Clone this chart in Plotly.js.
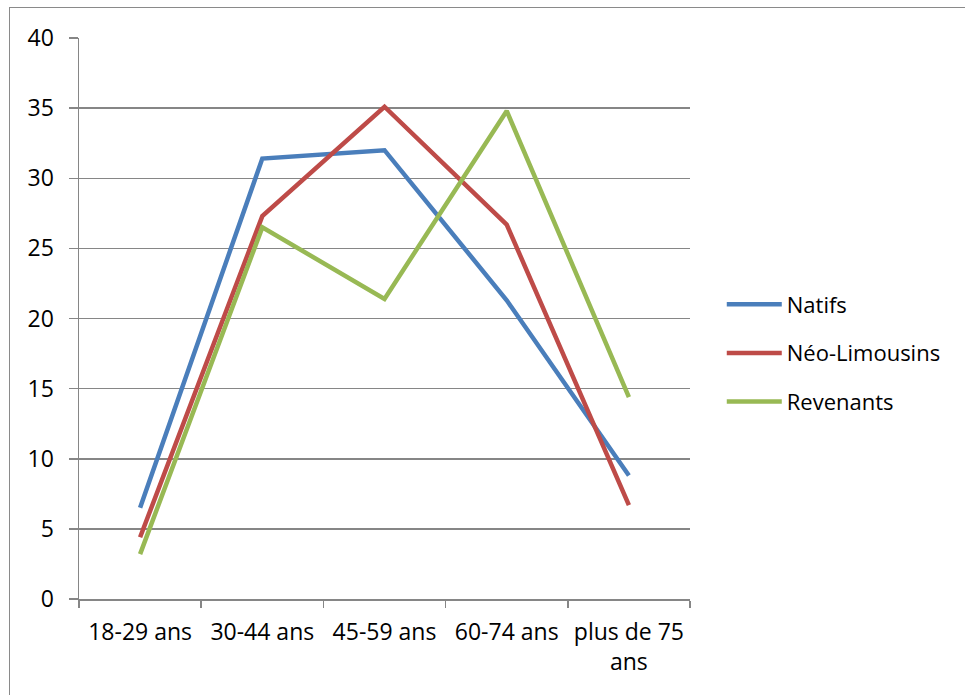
<!DOCTYPE html>
<html>
<head>
<meta charset="utf-8">
<script src="https://cdn.plot.ly/plotly-3.0.1.min.js"></script>
<style>
html,body{margin:0;padding:0;background:#fff;overflow:hidden;}
#frame{position:absolute;left:9px;top:7px;width:970px;height:700px;border:1.5px solid #8a8a8a;box-sizing:border-box;pointer-events:none;z-index:5;}
#chart{position:absolute;left:0;top:0;width:965px;height:695px;}
</style>
</head>
<body>
<div id="chart"></div>
<div id="frame"></div>
<script>
const categories = ["18-29 ans", "30-44 ans", "45-59 ans", "60-74 ans", "plus de 75<br>ans"];
const natifs = [6.5, 31.4, 32.0, 21.3, 8.8];
const neoLimousins = [4.4, 27.3, 35.1, 26.7, 6.7];
const revenants = [3.2, 26.5, 21.4, 34.8, 14.4];
const seriesNames = ["Natifs", "Néo-Limousins", "Revenants"];
const yTicks = [0, 5, 10, 15, 20, 25, 30, 35, 40];

const colors = ["#4A7EBB", "#BE4B48", "#98B954"];
const values = [natifs, neoLimousins, revenants];
const traces = values.map((v, i) => ({
  x: categories, y: v, name: seriesNames[i], type: "scatter", mode: "lines",
  legendgroup: "g" + i,
  line: {color: colors[i], width: 4.5}
}));

const fam = "Open Sans, Noto Sans, sans-serif";
const font = {family: fam, size: 23, color: "#000"};
const layout = {
  width: 965, height: 695,
  margin: {l: 79, r: 275, t: 38, b: 96},
  paper_bgcolor: "#fff", plot_bgcolor: "#fff",
  font: font,
  showlegend: true,
  legend: {x: 1.052, y: 0.4385, xanchor: "left", yanchor: "middle", font: {family: fam, size: 22, color: "#000"},
           tracegroupgap: 17, itemwidth: 55, bgcolor: "rgba(0,0,0,0)"},
  xaxis: {
    type: "category", tickson: "boundaries", ticks: "outside", ticklen: 7, tickcolor: "#868686", tickwidth: 1.5,
    showline: true, linecolor: "#868686", linewidth: 1.5, showgrid: false, zeroline: false,
    ticklabelstandoff: 12,
    tickfont: font, range: [-0.5, 4.5], fixedrange: true
  },
  yaxis: {
    range: [0, 40], tickvals: yTicks, ticks: "outside", ticklen: 9, tickcolor: "#868686", tickwidth: 1.5,
    showline: true, linecolor: "#868686", linewidth: 1.5,
    showgrid: true, gridcolor: "#868686", gridwidth: 1.5, zeroline: false,
    ticklabelstandoff: 10,
    tickfont: font
  }
};
Plotly.newPlot("chart", traces, layout, {displayModeBar: false, staticPlot: true});
</script>
</body>
</html>
